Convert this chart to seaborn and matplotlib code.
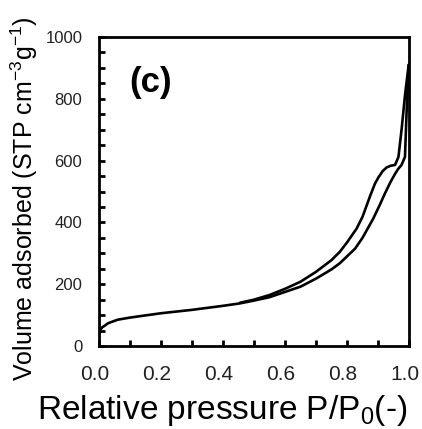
import matplotlib
matplotlib.use("Agg")
import matplotlib.pyplot as plt
import matplotlib.transforms as mtransforms
import seaborn as sns
import pandas as pd
from matplotlib.ticker import MultipleLocator

# Adsorption branch (lower)
ads_x = [0.0, 0.003, 0.01, 0.03, 0.06, 0.1, 0.15, 0.2, 0.3, 0.4, 0.455, 0.5, 0.55, 0.6, 0.65, 0.7,
         0.75, 0.777, 0.8, 0.826, 0.85, 0.885, 0.905, 0.923, 0.94, 0.955, 0.965, 0.976, 0.987,
         0.992, 0.997, 0.999]
ads_y = [40, 50, 60, 74, 85, 92, 99, 106, 117, 130, 138, 147, 158, 175, 192, 218,
         248, 268, 290, 315, 350, 413, 455, 495, 530, 557, 573, 586, 612,
         750, 870, 910]
# Desorption branch (upper)
des_x = [0.999, 0.988, 0.976, 0.966, 0.955, 0.94, 0.928, 0.915, 0.901, 0.89, 0.874, 0.85, 0.831,
         0.8, 0.777, 0.75, 0.7, 0.65, 0.6, 0.55, 0.5, 0.455]
des_y = [910, 820, 700, 612, 586, 583, 578, 566, 545, 525, 484, 418, 380,
         335, 305, 278, 240, 208, 185, 165, 150, 140]

xticks = [0.0, 0.2, 0.4, 0.6, 0.8, 1.0]
yticks = [0, 200, 400, 600, 800, 1000]

sns.set_theme(style="white")
plt.rcParams['font.family'] = ['Liberation Sans', 'DejaVu Sans']
plt.rcParams['mathtext.fontset'] = 'custom'
plt.rcParams['mathtext.rm'] = 'Liberation Sans'
plt.rcParams['mathtext.it'] = 'Liberation Sans'

fig = plt.figure(figsize=(4.22, 4.29), dpi=100)
ax = fig.add_axes([99/422, 1-346/429, 310/422, 309/429])

ads = pd.DataFrame({"x": ads_x, "y": ads_y})
des = pd.DataFrame({"x": des_x, "y": des_y})
sns.lineplot(data=ads, x="x", y="y", ax=ax, color="black", lw=1.9, sort=False, estimator=None)
sns.lineplot(data=des, x="x", y="y", ax=ax, color="black", lw=1.9, sort=False, estimator=None)

ax.set_xlim(0, 1.0)
ax.set_ylim(0, 1000)
ax.set_xticks(xticks)
ax.set_xticklabels([f"{v:.1f}" for v in xticks], fontsize=15, color="#222222")
ax.set_yticks(yticks)
ax.set_yticklabels([str(v) for v in yticks], fontsize=12, color="#222222")
ax.xaxis.set_minor_locator(MultipleLocator(0.1))
ax.yaxis.set_minor_locator(MultipleLocator(50))
ax.tick_params(axis="both", which="both", direction="in", length=4, width=2,
               bottom=True, left=True, top=False, right=False, color="black")
ax.tick_params(axis="x", which="major", pad=13.5)
ax.tick_params(axis="y", which="major", pad=12)
shift = mtransforms.ScaledTranslation(-4/100, 0, fig.dpi_scale_trans)
for lab in ax.get_xticklabels():
    lab.set_transform(lab.get_transform() + shift)
for s in ax.spines.values():
    s.set_color("black")
    s.set_linewidth(2)

ax.set_xlabel("")
ax.set_ylabel("")
fig.text(0.526, 0.044, "Relative pressure P/P$_0$(-)", ha="center", va="center", fontsize=24, color="black")
fig.text(0.057, 0.536, "Volume adsorbed (STP cm$^{-3}$g$^{-1}$)", ha="center", va="center",
         rotation=90, fontsize=18, color="black")
ax.text(0.165, 854, "(c)", ha="center", va="center", fontsize=25, fontweight="bold", color="black")

fig.savefig("out.png", dpi=100)
